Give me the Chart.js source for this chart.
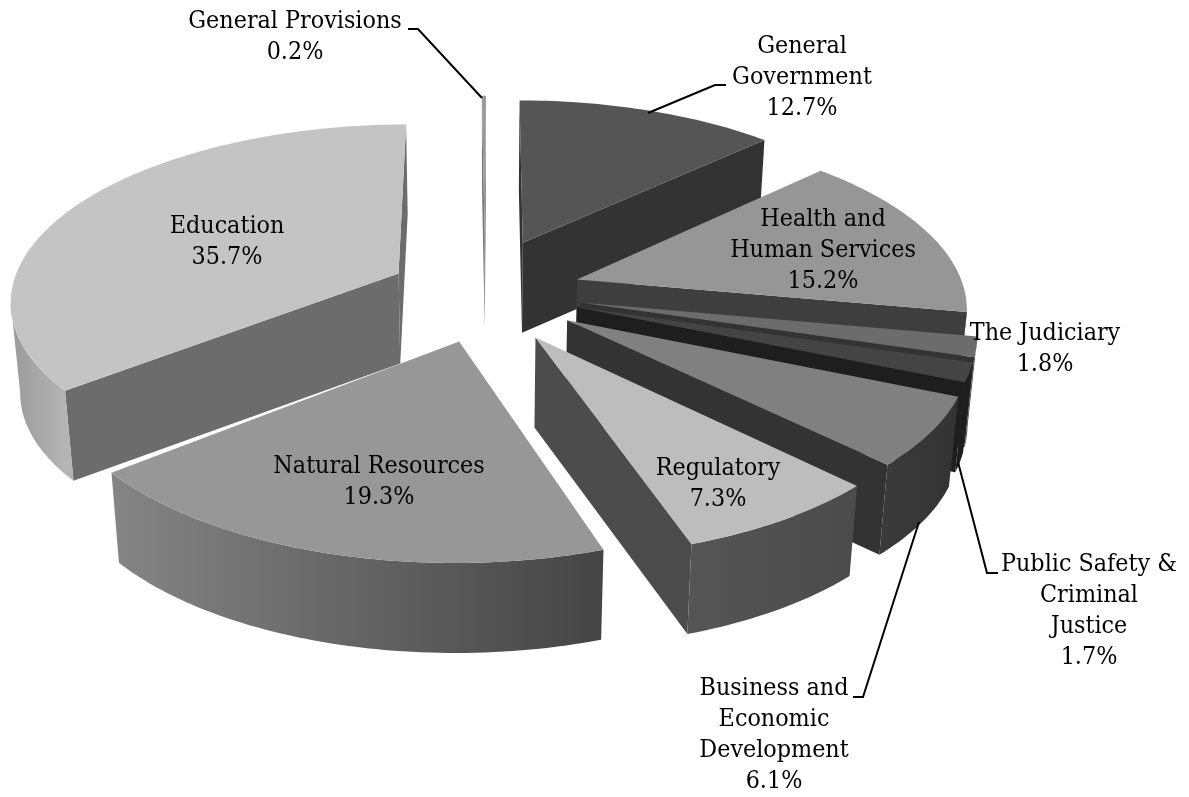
<!DOCTYPE html>
<html>
<head>
<meta charset="utf-8">
<title>Budget by function</title>
<script src="https://cdn.jsdelivr.net/npm/chart.js@4"></script>
<style>
  html, body { margin: 0; background: #fff; }
  #wrap { width: 1189px; height: 797px; }
</style>
</head>
<body>
<div id="wrap"><canvas id="myChart" width="1189" height="797"></canvas></div>
<script>
const categories = ['General Provisions', 'General Government', 'Health and Human Services', 'The Judiciary',
  'Public Safety & Criminal Justice', 'Business and Economic Development', 'Regulatory', 'Natural Resources', 'Education'];
const shares = [0.2, 12.7, 15.2, 1.8, 1.7, 6.1, 7.3, 19.3, 35.7];

// how far each slice is pulled out, % of the radius
const explode = [33, 31, 25, 25, 25, 26, 28, 28, 25];
// small turn of the pull direction away from the slice middle, degrees
const pullTurn = [0, -4, 0, 0, 0, 3, 5, -3, 0];

const topColors = ['#9a9a9a', '#555555', '#969696', '#6c6c6c', '#444444', '#808080', '#bdbdbd', '#979797', '#c4c4c4'];
const cutColors = ['#777777', '#333333', '#3e3e3e', '#333333', '#1e1e1e', '#333333', '#4c4c4c', '#444444', '#6c6c6c'];
const wallLeft = ['#777777', '#333333', '#444444', '#444444', '#1e1e1e', '#3a3a3a', '#555555', '#858585', '#9a9a9a'];
const wallRight = ['#777777', '#333333', '#444444', '#444444', '#1e1e1e', '#333333', '#4b4b4b', '#444444', '#b4b4b4'];

// text blocks: centre x, y of the first row, row lines
const labelText = [
  { x: 295, y: 22, rows: ['General Provisions'], i: 0 },
  { x: 802, y: 47, rows: ['General', 'Government'], i: 1 },
  { x: 823, y: 220, rows: ['Health and', 'Human Services'], i: 2 },
  { x: 1045, y: 334, rows: ['The Judiciary'], i: 3 },
  { x: 1089, y: 565, rows: ['Public Safety &', 'Criminal', 'Justice'], i: 4 },
  { x: 774, y: 689, rows: ['Business and', 'Economic', 'Development'], i: 5 },
  { x: 718, y: 469, rows: ['Regulatory'], i: 6 },
  { x: 379, y: 467, rows: ['Natural Resources'], i: 7 },
  { x: 227, y: 227, rows: ['Education'], i: 8 }
];
const leaders = [
  [[408, 29], [418, 29], [482, 98]],
  [[648, 113], [715, 85], [726, 85]],
  [[958, 462], [987, 573], [998, 573]],
  [[919, 522], [863, 697], [853, 697]]
];

// camera for the tilted pie
const spanX = 388, spanY = 175, persp = 0.14, depth = 90, lean = 0.02;

function project(el, X, Z, h) {
  const w = 1 + persp * Z;
  const sx = spanX * X / w * (1 - lean * h);
  return [el.x + sx, el.y - spanY * Z / w + h * depth];
}

function fillPoly(ctx, pts, fill) {
  ctx.beginPath();
  pts.forEach((p, n) => n ? ctx.lineTo(p[0], p[1]) : ctx.moveTo(p[0], p[1]));
  ctx.closePath();
  ctx.fillStyle = fill;
  ctx.fill();
}

function drawSlice(ctx, el, i) {
  const p = el.getProps(['x', 'y', 'startAngle', 'endAngle'], true);
  const t0 = p.startAngle + Math.PI / 2, t1 = p.endAngle + Math.PI / 2;
  const pull = (t0 + t1) / 2 + pullTurn[i] * Math.PI / 180;
  const d = el.options.offset / 100;
  const ox = d * Math.sin(pull), oz = d * Math.cos(pull);
  const steps = Math.max(2, Math.ceil((t1 - t0) / 0.02));
  const rimTop = [], rimLow = [];
  for (let n = 0; n <= steps; n++) {
    const t = t0 + (t1 - t0) * n / steps;
    rimTop.push(project(p, ox + Math.sin(t), oz + Math.cos(t), 0));
    rimLow.push(project(p, ox + Math.sin(t), oz + Math.cos(t), 1));
  }
  const apex = project(p, ox, oz, 0), apexLow = project(p, ox, oz, 1);
  const other = rimTop[Math.floor(steps / 2)];

  // cut faces, only when the extrusion is not hidden behind the top
  [0, steps].forEach(n => {
    const b = rimTop[n];
    const ex = b[0] - apex[0], ey = b[1] - apex[1];
    const sideC = ex * (other[1] - apex[1]) - ey * (other[0] - apex[0]);
    if (sideC * ex < 0) fillPoly(ctx, [apex, b, rimLow[n], apexLow], cutColors[i]);
  });

  // outer wall
  const top = [], low = [];
  for (let n = 0; n < steps; n++) {
    if (rimTop[n + 1][0] < rimTop[n][0]) {
      if (!top.length) { top.push(rimTop[n]); low.push(rimLow[n]); }
      top.push(rimTop[n + 1]); low.push(rimLow[n + 1]);
    }
  }
  if (top.length) {
    const xs = top.map(q => q[0]);
    const g = ctx.createLinearGradient(Math.min(...xs), 0, Math.max(...xs), 0);
    g.addColorStop(0, wallLeft[i]);
    g.addColorStop(1, wallRight[i]);
    fillPoly(ctx, top.concat(low.reverse()), g);
  }

  fillPoly(ctx, [apex].concat(rimTop), topColors[i]);
}

const pie3d = {
  id: 'pie3d',
  beforeDatasetDraw(chart) {
    const ctx = chart.ctx;
    const arcs = chart.getDatasetMeta(0).data;
    const depthOf = el => Math.cos((el.startAngle + el.endAngle) / 2 + Math.PI / 2);
    const order = arcs.map((el, i) => i).sort((a, b) => depthOf(arcs[b]) - depthOf(arcs[a]));
    order.forEach(i => drawSlice(ctx, arcs[i], i));
    return false;
  },
  afterDraw(chart) {
    const ctx = chart.ctx;
    ctx.save();
    ctx.strokeStyle = '#000';
    ctx.lineWidth = 2;
    leaders.forEach(line => {
      ctx.beginPath();
      line.forEach((q, n) => n ? ctx.lineTo(q[0], q[1]) : ctx.moveTo(q[0], q[1]));
      ctx.stroke();
    });
    ctx.fillStyle = '#000';
    ctx.font = '24.8px "DejaVu Serif Condensed"';
    ctx.textAlign = 'center';
    ctx.textBaseline = 'middle';
    labelText.forEach(l => {
      l.rows.concat(shares[l.i].toFixed(1) + '%').forEach((row, n) => ctx.fillText(row, l.x, l.y + n * 31));
    });
    ctx.restore();
  }
};

new Chart(document.getElementById('myChart'), {
  type: 'pie',
  data: {
    labels: categories,
    datasets: [{ data: shares, backgroundColor: topColors, offset: explode, borderWidth: 0 }]
  },
  options: {
    responsive: false,
    animation: false,
    rotation: -0.5,
    layout: { padding: { right: 219, bottom: 213 } },
    plugins: { legend: { display: false }, tooltip: { enabled: false } }
  },
  plugins: [pie3d]
});
</script>
</body>
</html>
